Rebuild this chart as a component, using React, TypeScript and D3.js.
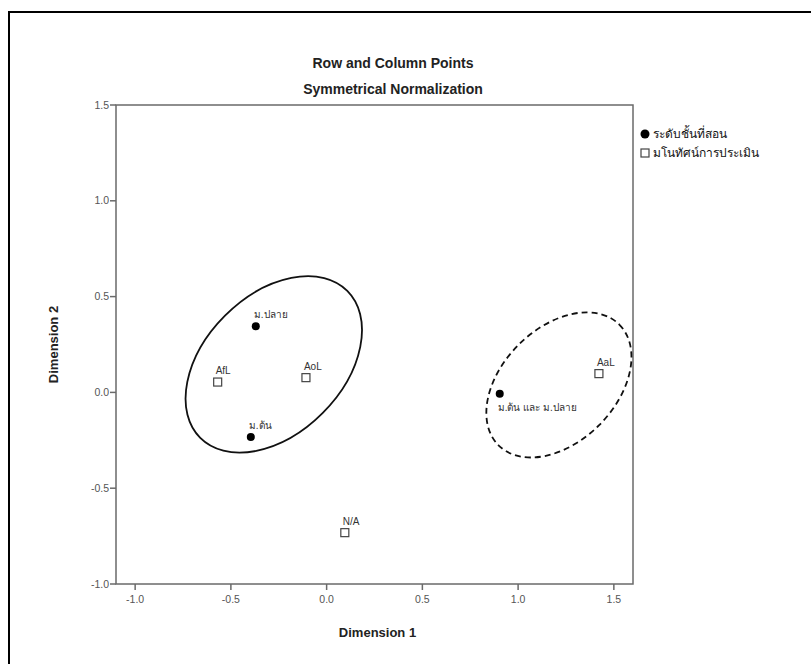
import React from 'react';
import * as d3 from 'd3';

// correspondence analysis points (dimension 1, dimension 2)
const rowNames = ['ม.ปลาย', 'ม.ต้น', 'ม.ต้น และ ม.ปลาย'];
const rowDim1 = [-0.37, -0.396, 0.904];
const rowDim2 = [0.345, -0.233, -0.007];

const colNames = ['AfL', 'AoL', 'AaL', 'N/A'];
const colDim1 = [-0.569, -0.108, 1.422, 0.095];
const colDim2 = [0.054, 0.077, 0.098, -0.732];

// names whose label sits under the marker
const labelBelow = ['ม.ต้น และ ม.ปลาย'];

// hand-drawn grouping ellipses: centre, radii (data units), tilt in degrees
const groupCx = [-0.276, 1.213];
const groupCy = [0.146, 0.039];
const groupRx = [0.543, 0.446];
const groupRy = [0.36, 0.297];
const groupTilt = [45, 45];
const groupDashed = [false, true];

const legendLabels = ['ระดับชั้นที่สอน', 'มโนทัศน์การประเมิน'];

const xDomain = [-1.1, 1.6];
const yDomain = [-1.0, 1.5];

const App = () => {
  const width = 811;
  const height = 664;
  const font = '"Liberation Sans", Arial, "Noto Sans", sans-serif';

  const x = d3.scaleLinear().domain(xDomain).range([116, 633]);
  const y = d3.scaleLinear().domain(yDomain).range([584, 105]);
  // SPSS prints a plain hyphen, not the unicode minus
  const fmt = (v: number) => d3.format('.1f')(v).replace('−', '-');
  const [x0, x1] = x.range();
  const [y0, y1] = y.range();
  const axisColor = '#6a6a6a';

  const labelFor = (name: string, px: number, py: number) => {
    const below = labelBelow.includes(name);
    return (
      <text
        x={px - 2}
        y={below ? py + 17 : py - 8}
        fontSize={10}
        fill="#333"
        fontFamily={font}
      >
        {name}
      </text>
    );
  };

  return (
    <svg width={width} height={height} style={{ position: 'absolute', left: 0, top: 0 }}>
      <rect width={width} height={height} fill="#fff" />
      {/* outer frame, only left and top edges are in view */}
      <path d={`M9,${height + 5}V12H${width + 5}`} fill="none" stroke="#000" strokeWidth={2} />

      <text x={393} y={68} textAnchor="middle" fontSize={14} fontWeight="bold" fontFamily={font} fill="#222">
        Row and Column Points
      </text>
      <text x={393} y={94} textAnchor="middle" fontSize={14} fontWeight="bold" fontFamily={font} fill="#222">
        Symmetrical Normalization
      </text>

      {/* plot frame */}
      <rect x={x0} y={y1} width={x1 - x0} height={y0 - y1} fill="none" stroke={axisColor} strokeWidth={1.5} />

      {y.ticks(5).map(t => (
        <g key={'y' + t}>
          <line x1={x0 - 6} x2={x0} y1={y(t)} y2={y(t)} stroke={axisColor} strokeWidth={1.5} />
          <text x={x0 - 7} y={y(t)} dy="0.35em" textAnchor="end" fontSize={10.5} fill="#555" fontFamily={font}>
            {fmt(t)}
          </text>
        </g>
      ))}
      {x.ticks(5).map(t => (
        <g key={'x' + t}>
          <line x1={x(t)} x2={x(t)} y1={y0} y2={y0 + 6} stroke={axisColor} strokeWidth={1.5} />
          <text x={x(t)} y={y0 + 19} textAnchor="middle" fontSize={10.5} fill="#555" fontFamily={font}>
            {fmt(t)}
          </text>
        </g>
      ))}

      <text x={(x0 + x1) / 2 + 3} y={637} textAnchor="middle" fontSize={13} fontWeight="bold" fontFamily={font} fill="#222">
        Dimension 1
      </text>
      <text
        transform={`translate(58,${(y0 + y1) / 2}) rotate(-90)`}
        textAnchor="middle"
        fontSize={13}
        fontWeight="bold"
        fontFamily={font}
        fill="#222"
      >
        Dimension 2
      </text>

      {/* grouping ellipses */}
      {groupCx.map((cx, i) => (
        <ellipse
          key={'e' + i}
          cx={x(cx)}
          cy={y(groupCy[i])}
          rx={x(cx + groupRx[i]) - x(cx)}
          ry={y(groupCy[i]) - y(groupCy[i] + groupRy[i])}
          transform={`rotate(${-groupTilt[i]},${x(cx)},${y(groupCy[i])})`}
          fill="none"
          stroke="#111"
          strokeWidth={1.8}
          strokeDasharray={groupDashed[i] ? '6,4' : undefined}
        />
      ))}

      {/* row points */}
      {rowNames.map((name, i) => {
        const px = x(rowDim1[i]);
        const py = y(rowDim2[i]);
        return (
          <g key={'r' + i}>
            <circle cx={px} cy={py} r={4} fill="#000" />
            {labelFor(name, px, py)}
          </g>
        );
      })}

      {/* column points */}
      {colNames.map((name, i) => {
        const px = x(colDim1[i]);
        const py = y(colDim2[i]);
        return (
          <g key={'c' + i}>
            <rect x={px - 4} y={py - 4} width={8} height={8} fill="#fff" stroke="#444" strokeWidth={1.2} />
            {labelFor(name, px, py)}
          </g>
        );
      })}

      {/* legend */}
      <g fontFamily={font} fontSize={12} fill="#111">
        <circle cx={645} cy={134} r={4.5} fill="#000" />
        <text x={653} y={138}>{legendLabels[0]}</text>
        <rect x={641} y={149} width={8} height={8} fill="#fff" stroke="#444" strokeWidth={1.2} />
        <text x={653} y={157}>{legendLabels[1]}</text>
      </g>
    </svg>
  );
};

export default App;
